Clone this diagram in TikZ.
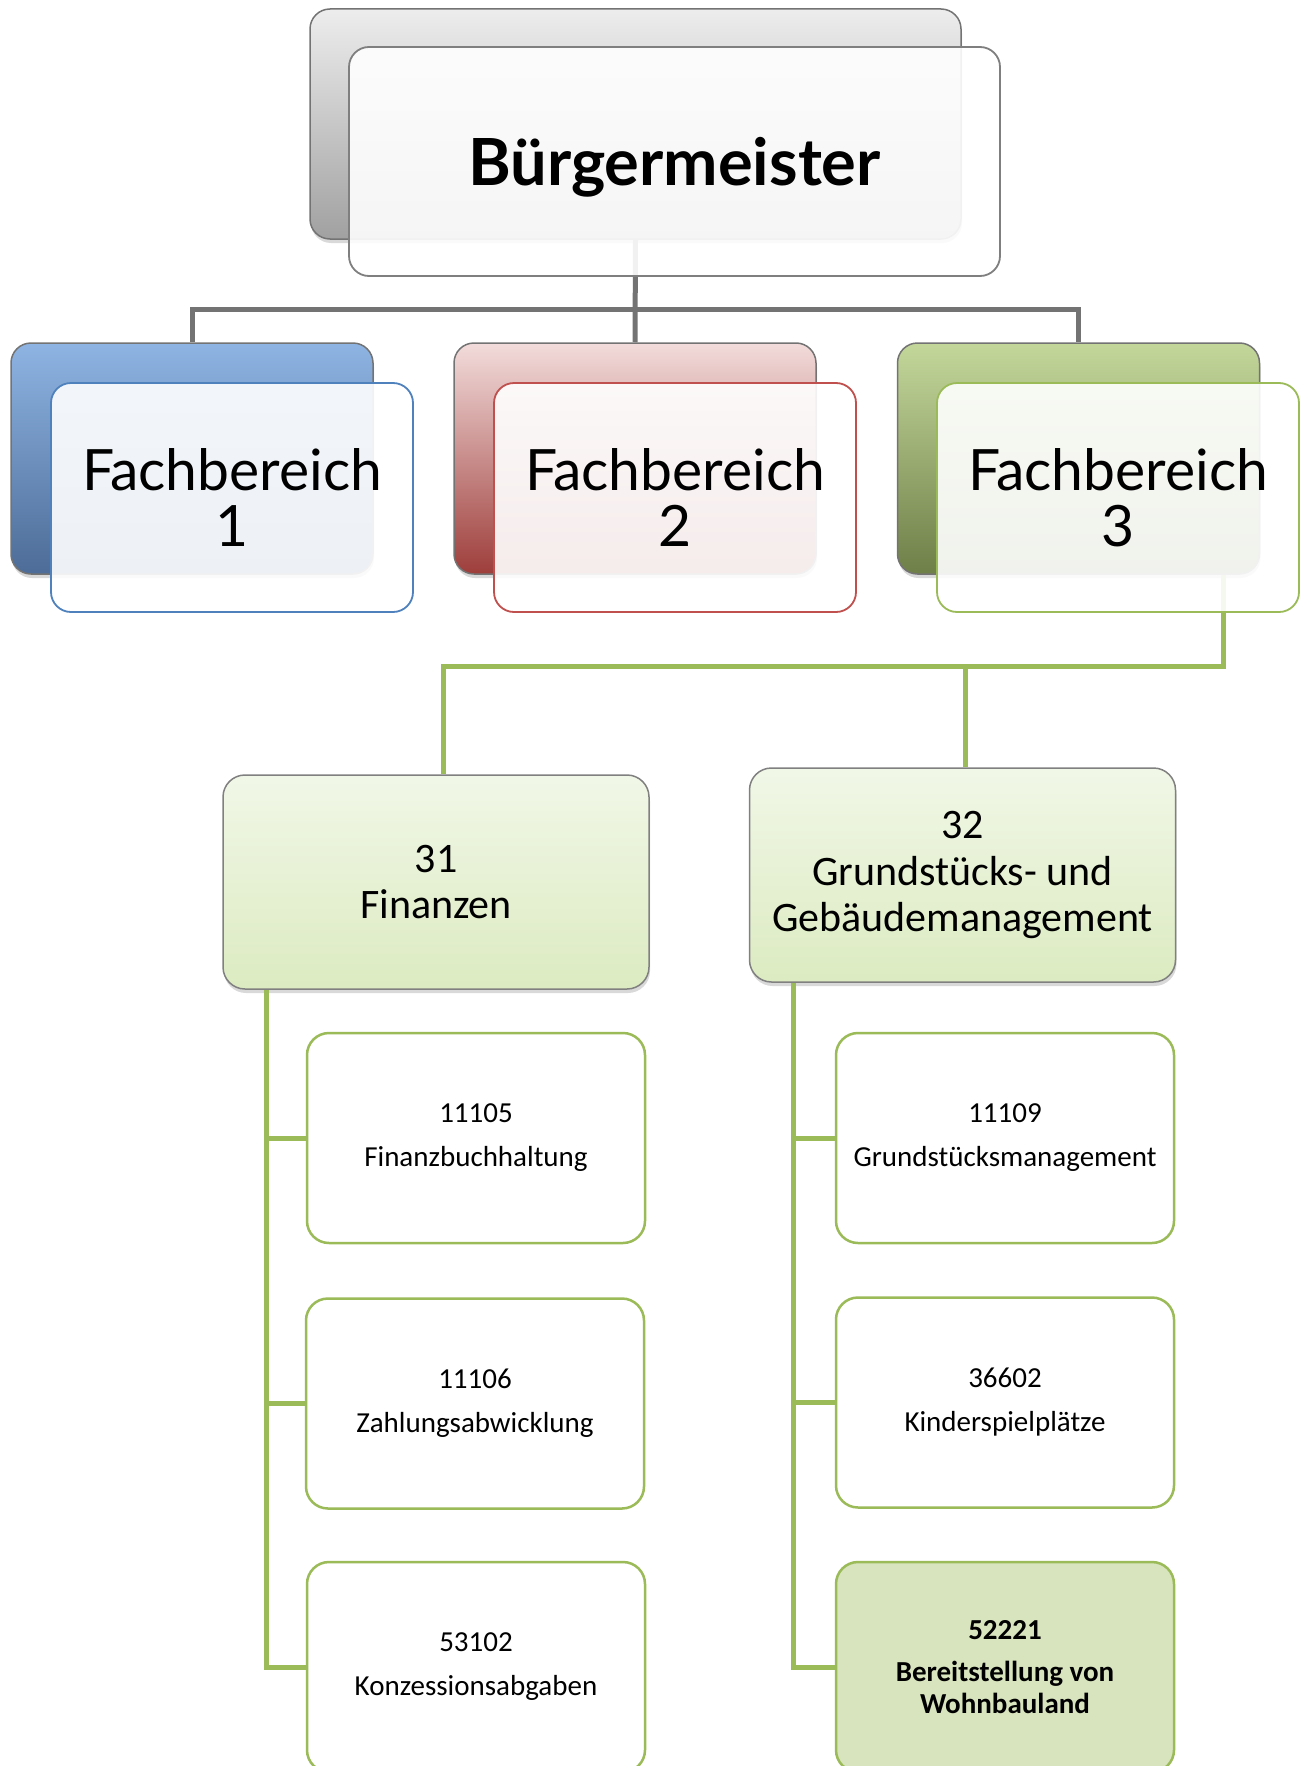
\documentclass[tikz,border=0pt]{standalone}
\usepackage{fontspec}
\setmainfont{Carlito}
\newfontfamily\headfont{Lato}
\usetikzlibrary{shadows}
\definecolor{fbgreen}{HTML}{9BBB59}
\definecolor{fbblue}{HTML}{4F81BD}
\definecolor{fbred}{HTML}{C0504D}
\definecolor{frameg}{HTML}{7F7F7F}
\definecolor{midtop}{HTML}{F1F7E7}
\definecolor{midbot}{HTML}{DCEBC1}
\definecolor{leafsel}{HTML}{D8E4BE}
\definecolor{bluetop}{HTML}{8EB4E3}
\definecolor{bluebot}{HTML}{4D6C97}
\definecolor{redtop}{HTML}{F2DCDB}
\definecolor{redbot}{HTML}{9E3E3B}
\definecolor{greentop}{HTML}{C4D79B}
\definecolor{greenbot}{HTML}{6E7F47}
\tikzset{
  backbox/.style={draw=black!55, line width=1.5pt, rounded corners=20pt,
    minimum width=362pt, minimum height=231pt,
    drop shadow={shadow xshift=1pt, shadow yshift=-4pt, opacity=0.3}},
  frontbox/.style={draw=#1, line width=1.8pt, rounded corners=20pt,
    fill=white, fill opacity=0.9, text opacity=1,
    minimum width=362pt, minimum height=229pt, align=center,
    font=\headfont\fontsize{57}{56}\selectfont},
  midbox/.style={draw=black!50, line width=1.5pt, rounded corners=22pt,
    top color=midtop, bottom color=midbot,
    minimum width=426pt, minimum height=214pt, align=center,
    font=\fontsize{42}{46.5}\selectfont,
    drop shadow={shadow xshift=1pt, shadow yshift=-4pt, opacity=0.3}},
  leafbox/.style={draw=fbgreen, line width=2.5pt, rounded corners=22pt,
    fill=white, minimum width=338pt, minimum height=210pt, align=center,
    font=\fontsize{29}{34}\selectfont},
  grayline/.style={draw=black!55, line width=5pt},
  greenline/.style={draw=fbgreen, line width=5pt},
}
\begin{document}
\begin{tikzpicture}[x=1pt,y=-1pt]
\useasboundingbox (0,0) rectangle (1303,1766);
% back layer
\node[backbox, minimum width=651pt, minimum height=230pt,
  top color=black!7, bottom color=black!37] (bmb) at (635.5,124) {};
\node[backbox, top color=bluetop, bottom color=bluebot] (fb1b) at (192,458.5) {};
\node[backbox, top color=redtop, bottom color=redbot] (fb2b) at (635,458.5) {};
\node[backbox, top color=greentop, bottom color=greenbot] (fb3b) at (1078.5,458.5) {};
% Fachbereich 3
\node[midbox] (b31) at (436,882) {31\\Finanzen};
\node[midbox] (b32) at (962.5,875) {32\\Grundstücks- und\\Gebäudemanagement};
\node[leafbox] (f1) at (476,1138) {11105\\[10pt]Finanzbuchhaltung};
\node[leafbox] (f2) at (475,1403.5) {11106\\[10pt]Zahlungsabwicklung};
\node[leafbox] (f3) at (476,1667) {53102\\[10pt]Konzessionsabgaben};
\node[leafbox] (g1) at (1005,1138) {11109\\[10pt]Grundstücksmanagement};
\node[leafbox] (g2) at (1005,1402.5) {36602\\[10pt]Kinderspielplätze};
\node[leafbox, fill=leafsel, font=\fontsize{29}{32}\selectfont\bfseries] (g3) at (1005,1667)
  {52221\\[10pt]Bereitstellung von\\Wohnbauland};
% connectors
\draw[grayline] (bmb.south) -- (fb2b.north);
\draw[grayline] (fb1b.north) |- ([yshift=33pt]fb2b.north) -| (fb3b.north);
\draw[greenline] ([xshift=-37pt]fb3b.south east) |- ([xshift=7pt,yshift=108pt]b31.north) -- ([xshift=7pt]b31.north);
\draw[greenline] ([xshift=3pt]b32.north) -- ++(0,-101);
\draw[greenline] ([xshift=44pt]b31.south west) |- (f3.west);
\draw[greenline] ([xshift=44pt]b31.south west) |- (f1.west);
\draw[greenline] ([xshift=44pt]b31.south west) |- (f2.west);
\draw[greenline] ([xshift=45pt]b32.south west) |- (g3.west);
\draw[greenline] ([xshift=45pt]b32.south west) |- (g1.west);
\draw[greenline] ([xshift=45pt]b32.south west) |- (g2.west);
% front layer
\node[frontbox=frameg, minimum width=651pt, text depth=0pt,
  font=\headfont\bfseries\fontsize{65}{70}\selectfont]
  (bmf) at (674.5,161.5) {Bürgermeister};
\node[frontbox=fbblue] (fb1f) at (232,497.5) {Fachbereich\\1};
\node[frontbox=fbred] (fb2f) at (675,497.5) {Fachbereich\\2};
\node[frontbox=fbgreen] (fb3f) at (1118,497.5) {Fachbereich\\3};
\end{tikzpicture}
\end{document}
